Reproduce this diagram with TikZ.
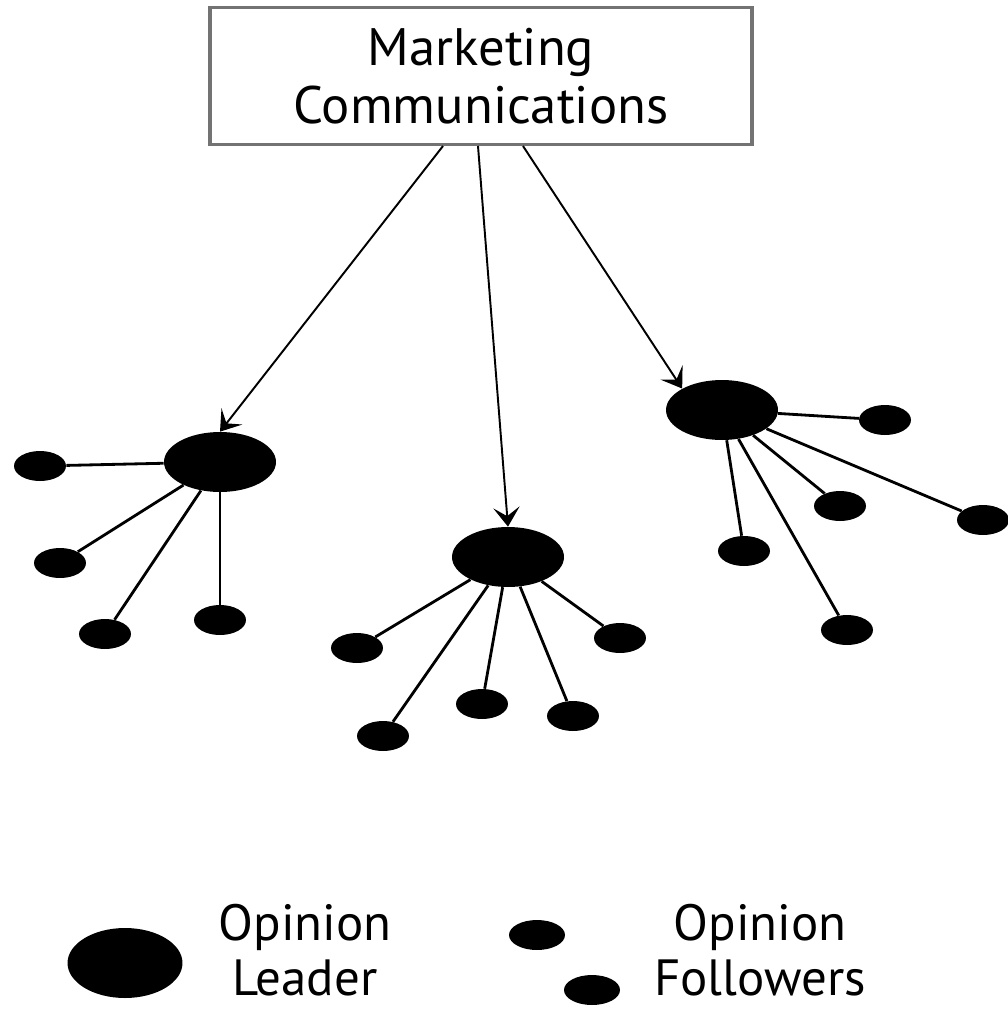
\documentclass[tikz,border=0pt]{standalone}
\usepackage{fontspec}
\setmainfont{PT Sans}
\usetikzlibrary{arrows.meta,shapes.geometric}

\begin{document}
\begin{tikzpicture}
      [
        x=0.02cm, y=-0.02cm,
        BigText/.style={font=\fontsize{30}{33}\selectfont, align=center, inner sep=0pt},
        Leader/.style={ellipse, fill=black, minimum width=2.24cm, minimum height=1.2cm, inner sep=0pt},
        Follower/.style={ellipse, fill=black, minimum width=1.04cm, minimum height=0.6cm, inner sep=0pt},
        Tie/.style={line width=1.6pt},
        Push/.style={line width=1.1pt, -{Stealth[length=11pt, width=15pt, inset=5pt]}},
      ]
      \useasboundingbox (0,0) rectangle (1008,1015);

      \node [draw=black!55, line width=1.8pt, minimum width=10.84cm, minimum height=2.74cm,
             BigText] (mc) at (481,76) {Marketing\\Communications};

      % opinion leaders
      \node [Leader] (ldrA) at (220,462) {};
      \node [Leader] (ldrB) at (508,557) {};
      \node [Leader] (ldrC) at (722,410) {};

      % followers
      \node [Follower] (fA1) at (40,466) {};
      \node [Follower] (fA2) at (60,563) {};
      \node [Follower] (fA3) at (105,634) {};
      \node [Follower] (fA4) at (220,620) {};

      \node [Follower] (fB1) at (357,648) {};
      \node [Follower] (fB2) at (383,736) {};
      \node [Follower] (fB3) at (482,704) {};
      \node [Follower] (fB4) at (573,716) {};
      \node [Follower] (fB5) at (620,638) {};

      \node [Follower] (fC1) at (885,420) {};
      \node [Follower] (fC2) at (840,506) {};
      \node [Follower] (fC3) at (983,520) {};
      \node [Follower] (fC4) at (744,551) {};
      \node [Follower] (fC5) at (847,630) {};

      \foreach \f in {fA1,fA2,fA3,fA4} \draw [Tie] (ldrA) -- (\f);
      \foreach \f in {fB1,fB2,fB3,fB4,fB5} \draw [Tie] (ldrB) -- (\f);
      \foreach \f in {fC1,fC2,fC3,fC4,fC5} \draw [Tie] (ldrC) -- (\f);

      \coordinate (outA) at (443,146);
      \coordinate (outB) at (478,146);
      \coordinate (outC) at (523,146);
      \draw [Push] (outA) -- (ldrA.north);
      \draw [Push] (outB) -- (ldrB.north);
      \draw [Push] (outC) -- (ldrC.north west);

      % legend
      \node [Leader, minimum width=2.3cm, minimum height=1.4cm] (keyL) at (125,963) {};
      \node [BigText, font=\fontsize{29}{31}\selectfont] (keyLtxt) at (305,950) {Opinion\\Leader};
      \node [Follower, minimum width=1.12cm] (keyF1) at (537,935) {};
      \node [Follower, minimum width=1.12cm] (keyF2) at (592,990) {};
      \node [BigText, font=\fontsize{29}{31}\selectfont] (keyFtxt) at (760,950) {Opinion\\Followers};
    \end{tikzpicture}
\end{document}
